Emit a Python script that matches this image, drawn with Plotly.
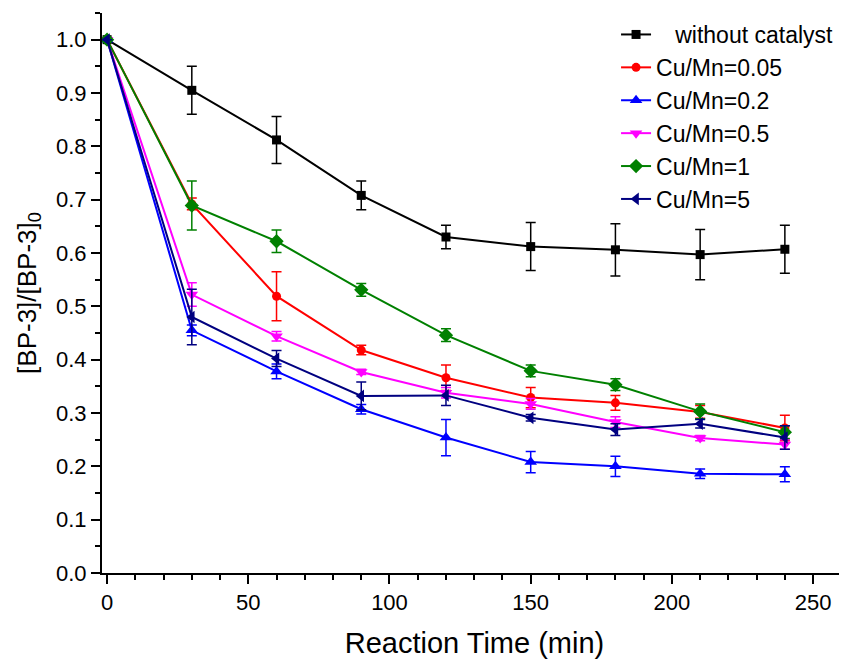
import plotly.graph_objects as go

# reaction times (min)
time = [0, 30, 60, 90, 120, 150, 180, 210, 240]

names = ["   without catalyst", "Cu/Mn=0.05", "Cu/Mn=0.2", "Cu/Mn=0.5", "Cu/Mn=1", "Cu/Mn=5"]

no_cat = [1.0, 0.905, 0.812, 0.708, 0.630, 0.612, 0.606, 0.597, 0.607]
no_cat_err = [0.0, 0.045, 0.044, 0.027, 0.022, 0.045, 0.049, 0.047, 0.045]

cu_005 = [1.0, 0.692, 0.519, 0.418, 0.366, 0.329, 0.319, 0.302, 0.272]
cu_005_err = [0.0, 0.011, 0.046, 0.009, 0.024, 0.019, 0.014, 0.012, 0.024]

cu_02 = [1.0, 0.455, 0.378, 0.307, 0.254, 0.208, 0.200, 0.186, 0.185]
cu_02_err = [0.0, 0.010, 0.014, 0.009, 0.034, 0.020, 0.019, 0.009, 0.014]

cu_05 = [1.0, 0.522, 0.444, 0.377, 0.338, 0.317, 0.283, 0.253, 0.241]
cu_05_err = [0.0, 0.022, 0.009, 0.005, 0.010, 0.010, 0.010, 0.005, 0.009]

cu_1 = [1.0, 0.689, 0.622, 0.531, 0.446, 0.379, 0.353, 0.303, 0.264]
cu_1_err = [0.0, 0.046, 0.021, 0.012, 0.012, 0.011, 0.011, 0.014, 0.012]

cu_5 = [1.0, 0.480, 0.402, 0.332, 0.333, 0.291, 0.269, 0.280, 0.254]
cu_5_err = [0.0, 0.052, 0.015, 0.026, 0.019, 0.006, 0.011, 0.008, 0.022]

series = [no_cat, cu_005, cu_02, cu_05, cu_1, cu_5]
errors = [no_cat_err, cu_005_err, cu_02_err, cu_05_err, cu_1_err, cu_5_err]
colors = ["#000000", "#FF0000", "#0000FF", "#FF00FF", "#008000", "#000080"]
symbols = ["square", "circle", "triangle-up", "triangle-down", "diamond", "triangle-left"]
sizes = [9, 9, 11, 11, 11, 11]

FONT = "Liberation Sans, Arial, sans-serif"

fig = go.Figure()

for i in range(len(series)):
    trace = go.Scatter(x=time,
                       y=series[i],
                       mode="lines+markers",
                       name=names[i],
                       line=dict(color=colors[i], width=2),
                       marker=dict(symbol=symbols[i], size=sizes[i], color=colors[i]),
                       error_y=dict(type="data", array=errors[i], visible=True,
                                    color=colors[i], thickness=1.5, width=5)
    )
    fig.add_trace(trace)

fig.update_xaxes(range=[-1.8, 262],
                 automargin=False,
                 dtick=50,
                 tick0=0,
                 ticks="outside",
                 ticklen=9,
                 tickwidth=2,
                 tickcolor="black",
                 minor=dict(dtick=10, ticks="outside", ticklen=5, tickwidth=1.5, tickcolor="black"),
                 showline=True,
                 linecolor="black",
                 linewidth=2,
                 showgrid=False,
                 zeroline=False,
                 tickfont=dict(size=22, color="black"),
                 title=dict(text="Reaction Time (min)", font=dict(size=29, color="black"), standoff=20)
)
fig.update_yaxes(range=[0, 1.05],
                 automargin=False,
                 dtick=0.1,
                 tick0=0,
                 tickformat=".1f",
                 ticks="outside",
                 ticklen=9,
                 tickwidth=2,
                 tickcolor="black",
                 minor=dict(dtick=0.05, ticks="outside", ticklen=5, tickwidth=1.5, tickcolor="black"),
                 showline=True,
                 linecolor="black",
                 linewidth=2,
                 showgrid=False,
                 zeroline=False,
                 tickfont=dict(size=22, color="black"),
                 title=dict(text="[BP-3]/[BP-3]<sub>0</sub>", font=dict(size=26, color="black"), standoff=12)
)
# the page body adds an 8px offset, so the figure is a bit smaller than the window
fig.update_layout(width=839,
                  height=651,
                  margin=dict(l=94, r=0, t=5, b=86),
                  paper_bgcolor="white",
                  plot_bgcolor="white",
                  font=dict(family=FONT, color="black"),
                  legend=dict(x=0.69, y=1.0, xanchor="left", yanchor="top",
                              bgcolor="rgba(0,0,0,0)", borderwidth=0,
                              font=dict(size=23, color="black"))
)

fig.write_html("out.html")
